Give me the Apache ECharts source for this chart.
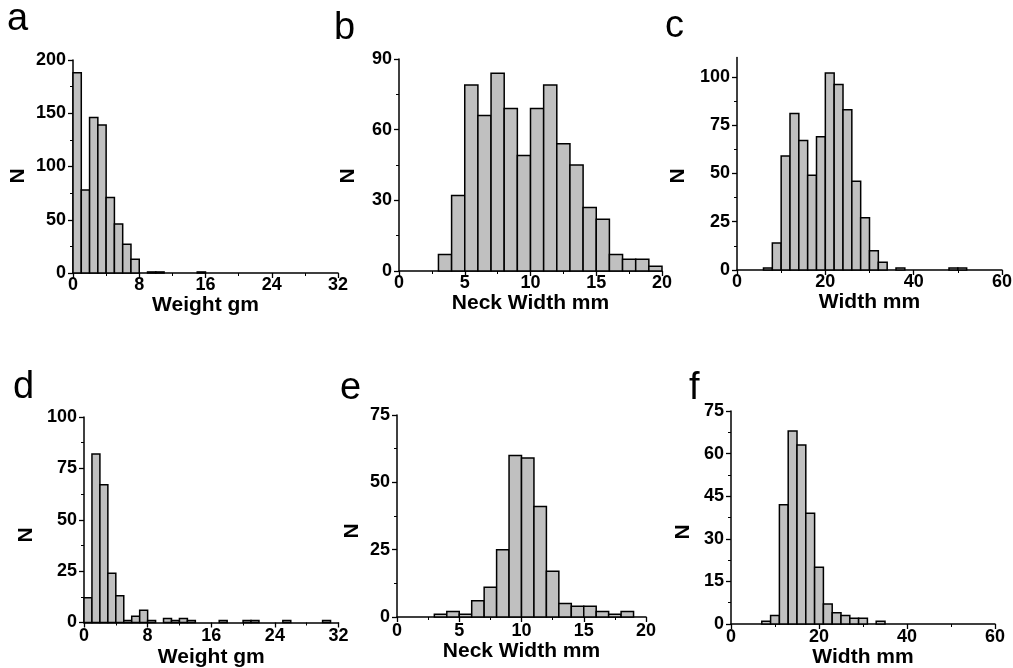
<!DOCTYPE html>
<html>
<head>
<meta charset="utf-8">
<script src="https://cdn.jsdelivr.net/npm/echarts@6/dist/echarts.min.js"></script>
<style>
html,body{margin:0;padding:0;background:#fff;}
#chart{width:1013px;height:668px;}
</style>
</head>
<body>
<div id="chart"></div>
<script>
// ---------- DATA ----------
// Panel a: Weight gm (bin width 1)
const aBinStart = [0, 1, 2, 3, 4, 5, 6, 7, 9, 10, 15];
const aCount    = [188, 78, 146, 139, 71, 46, 27, 13, 1, 1, 1];
const aBinWidth = 1;
// Panel b: Neck Width mm (bin width 1)
const bBinStart = [3, 4, 5, 6, 7, 8, 9, 10, 11, 12, 13, 14, 15, 16, 17, 18, 19];
const bCount    = [7, 32, 79, 66, 84, 69, 49, 69, 79, 54, 45, 27, 22, 7, 5, 5, 2];
const bBinWidth = 1;
// Panel c: Width mm (bin width 2)
const cBinStart = [6, 8, 10, 12, 14, 16, 18, 20, 22, 24, 26, 28, 30, 32, 36, 48, 50];
const cCount    = [1, 14, 59, 81, 67, 49, 69, 102, 96, 83, 46, 27, 10, 4, 1, 1, 1];
const cBinWidth = 2;
// Panel d: Weight gm (bin width 1)
const dBinStart = [0, 1, 2, 3, 4, 5, 6, 7, 8, 10, 11, 12, 13, 17, 20, 21, 25, 30];
const dCount    = [12, 82, 67, 24, 13, 1, 3, 6, 1, 2, 1, 2, 1, 1, 1, 1, 1, 1];
const dBinWidth = 1;
// Panel e: Neck Width mm (bin width 1)
const eBinStart = [3, 4, 5, 6, 7, 8, 9, 10, 11, 12, 13, 14, 15, 16, 17, 18];
const eCount    = [1, 2, 1, 6, 11, 25, 60, 59, 41, 17, 5, 4, 4, 2, 1, 2];
const eBinWidth = 1;
// Panel f: Width mm (bin width 2)
const fBinStart = [7, 9, 11, 13, 15, 17, 19, 21, 23, 25, 27, 29, 33];
const fCount    = [1, 3, 42, 68, 63, 39, 20, 7, 4, 3, 2, 2, 1];
const fBinWidth = 2;

// Axis ticks
const aXTicks = [0, 8, 16, 24, 32];   const aYTicks = [0, 50, 100, 150, 200];
const bXTicks = [0, 5, 10, 15, 20];   const bYTicks = [0, 30, 60, 90];
const cXTicks = [0, 20, 40, 60];      const cYTicks = [0, 25, 50, 75, 100];
const cYMinorTicks = [12.5, 37.5, 62.5, 87.5];
const cYMax = 110;
const dXTicks = [0, 8, 16, 24, 32];   const dYTicks = [0, 25, 50, 75, 100];
const eXTicks = [0, 5, 10, 15, 20];   const eYTicks = [0, 25, 50, 75];
const fXTicks = [0, 20, 40, 60];      const fYTicks = [0, 15, 30, 45, 60, 75];

const panelLetters = ['a', 'b', 'c', 'd', 'e', 'f'];
const xTitles = ['Weight gm', 'Neck Width mm', 'Width mm', 'Weight gm', 'Neck Width mm', 'Width mm'];
const yTitle = 'N';

// ---------- BUILD ----------
const FONT = "'Liberation Sans', Arial, Helvetica, sans-serif";
const panels = [
  {start: aBinStart, count: aCount, w: aBinWidth, xt: aXTicks, yt: aYTicks},
  {start: bBinStart, count: bCount, w: bBinWidth, xt: bXTicks, yt: bYTicks},
  {start: cBinStart, count: cCount, w: cBinWidth, xt: cXTicks, yt: cYTicks, ymax: cYMax},
  {start: dBinStart, count: dCount, w: dBinWidth, xt: dXTicks, yt: dYTicks},
  {start: eBinStart, count: eCount, w: eBinWidth, xt: eXTicks, yt: eYTicks},
  {start: fBinStart, count: fCount, w: fBinWidth, xt: fXTicks, yt: fYTicks}
];

const layout = [
  {left: 73,  top: 60,   width: 265,   height: 213,   lblMargin: 3, nameGap: 20},
  {left: 399, top: 59,   width: 263,   height: 212,   lblMargin: 3, nameGap: 20},
  {left: 737, top: 57.5, width: 265,   height: 212.5, lblMargin: 3, nameGap: 20},
  {left: 84,  top: 417,  width: 254.5, height: 205.5, lblMargin: 5, nameGap: 24},
  {left: 397, top: 415,  width: 249,   height: 202,   lblMargin: 5, nameGap: 24},
  {left: 731, top: 411,  width: 264,   height: 213,   lblMargin: 4, nameGap: 23}
];
const letterPos = [[7, 33], [334, 42], [665, 40], [13, 401], [340, 402], [689, 402]];
const nPos = [[18, 176], [348, 176], [678, 176], [26, 535], [352, 531], [683, 532]];

const axisLineStyle = {color: '#000', width: 1.5};
const labelStyle = {fontFamily: FONT, fontWeight: 'bold', fontSize: 18, color: '#000'};

const grid = [], xAxis = [], yAxis = [], series = [], graphic = [];

panels.forEach((p, i) => {
  const L = layout[i];
  grid.push({left: L.left, top: L.top, width: L.width, height: L.height, containLabel: false, outerBoundsMode: 'none'});
  const xInt = p.xt[1] - p.xt[0];
  xAxis.push({
    gridIndex: i, type: 'value',
    min: p.xt[0], max: p.xt[p.xt.length - 1], interval: xInt,
    name: xTitles[i], nameLocation: 'middle', nameGap: L.nameGap,
    nameTextStyle: {fontFamily: FONT, fontWeight: 'bold', fontSize: 21, color: '#000'},
    axisLine: {show: true, onZero: false, lineStyle: axisLineStyle},
    axisTick: {show: true, inside: false, length: 5, lineStyle: {color: '#000', width: 1.3}},
    minorTick: {show: true, splitNumber: 2, length: 3, lineStyle: {color: '#000', width: 1}},
    axisLabel: Object.assign({margin: L.lblMargin}, labelStyle),
    splitLine: {show: false}, minorSplitLine: {show: false}
  });
  const yInt = p.yt[1] - p.yt[0];
  const ymax = p.ymax !== undefined ? p.ymax : p.yt[p.yt.length - 1];
  const y = {
    gridIndex: i, type: 'value', position: 'left',
    min: p.yt[0], max: ymax, interval: yInt,
    axisLine: {show: true, onZero: false, lineStyle: axisLineStyle},
    axisTick: {show: true, inside: false, length: 5, lineStyle: {color: '#000', width: 1.3}},
    minorTick: {show: true, splitNumber: 2, length: 3, lineStyle: {color: '#000', width: 1}},
    axisLabel: Object.assign({margin: 7}, labelStyle),
    splitLine: {show: false}, minorSplitLine: {show: false}
  };
  if (p.ymax !== undefined) {
    y.axisTick.customValues = p.yt;
    y.axisLabel.customValues = p.yt;
    y.minorTick = {show: false};
  }
  yAxis.push(y);

  series.push({
    type: 'custom', xAxisIndex: i, yAxisIndex: i, clip: false,
    data: p.start.map((s, k) => [s, s + p.w, p.count[k]]),
    encode: {x: [0, 1], y: 2},
    renderItem: function (params, api) {
      const p0 = api.coord([api.value(0), api.value(2)]);
      const p1 = api.coord([api.value(1), 0]);
      return {
        type: 'rect',
        shape: {x: p0[0], y: p0[1], width: p1[0] - p0[0], height: p1[1] - p0[1]},
        style: {fill: '#c0c0c0', stroke: '#000', lineWidth: 1.5}
      };
    }
  });

  graphic.push({
    type: 'text', x: letterPos[i][0], y: letterPos[i][1] - 13.2,
    style: {text: panelLetters[i], font: '38px ' + FONT, fill: '#000', align: 'left', verticalAlign: 'middle'}
  });
  graphic.push({
    type: 'text', x: nPos[i][0], y: nPos[i][1], rotation: Math.PI / 2,
    style: {text: yTitle, font: 'bold 21px ' + FONT, fill: '#000', align: 'center', verticalAlign: 'middle'}
  });
});

// minor ticks for panel c's y axis (its max is not a multiple of the interval)
yAxis.push({
  gridIndex: 2, type: 'value', position: 'left', offset: 0,
  min: cYTicks[0], max: cYMax,
  axisLine: {show: false},
  axisTick: {show: true, inside: false, length: 3, customValues: cYMinorTicks, lineStyle: {color: '#000', width: 1}},
  axisLabel: {show: false},
  splitLine: {show: false}
});

const chart = echarts.init(document.getElementById('chart'), null, {renderer: 'canvas'});
chart.setOption({
  animation: false,
  backgroundColor: '#fff',
  grid, xAxis, yAxis, series, graphic
});
</script>
</body>
</html>
